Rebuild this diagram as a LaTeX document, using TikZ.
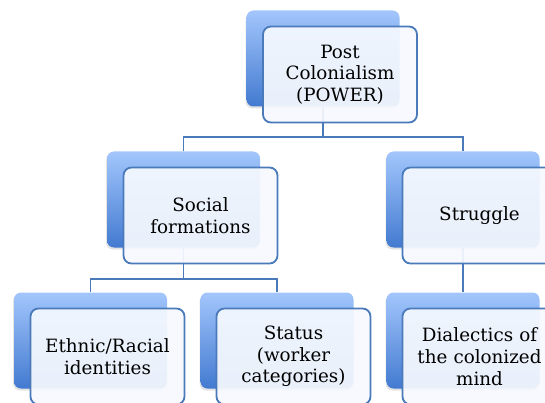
\documentclass[tikz,border=0pt]{standalone}
\usepackage{fontspec}
\setmainfont{DejaVu Serif}
\usetikzlibrary{shadows,calc}
\definecolor{edgeblue}{RGB}{74,122,186}
\definecolor{backtop}{RGB}{163,198,252}
\definecolor{backbot}{RGB}{66,122,208}
\definecolor{frontfill}{RGB}{246,249,254}
\tikzset{
  backbox/.style={rectangle, rounded corners=7pt, minimum width=153pt, minimum height=96pt,
    inner sep=0pt, top color=backtop, bottom color=backbot, draw=none,
    drop shadow={opacity=0.22, shadow xshift=-1pt, shadow yshift=-2pt}},
  frontbox/.style={rectangle, rounded corners=8pt, minimum width=153pt, minimum height=96pt,
    inner sep=2pt, draw=edgeblue, line width=1.8pt, fill=frontfill, fill opacity=0.93,
    text opacity=1, align=center, text width=150pt, font=\fontsize{18.3}{21.7}\selectfont},
  link/.style={draw=edgeblue, line width=1.8pt},
}
\begin{document}
\begin{tikzpicture}[x=1pt,y=-1pt]
\useasboundingbox (0,0) rectangle (545,403);
% rear blocks
\node[backbox] (topB) at (323,58.5) {};
\node[backbox] (socB) at (183.5,199.5) {};
\node[backbox] (strB) at (463,199.5) {};
\node[backbox] (ethB) at (90.5,340.5) {};
\node[backbox] (staB) at (277,340.5) {};
\node[backbox] (diaB) at (463,340.5) {};
% connectors
\draw[link] (topB.south) -- ($(topB.south)+(0,30)$) coordinate (busA) -| (socB.north);
\draw[link] (busA) -| (strB.north);
\draw[link] (socB.south) -- ($(socB.south)+(0,31)$) coordinate (busB) -| (ethB.north);
\draw[link] (busB) -| (staB.north);
\draw[link] (strB.south) -- (diaB.north);
% front blocks with labels
\node[frontbox] (top) at (340,74.5) {Post\\Colonialism\\(POWER)};
\node[frontbox] (soc) at (200.5,215.5) {Social\\formations};
\node[frontbox] (str) at (479.5,215.5) {Struggle};
\node[frontbox] (eth) at (107.5,356.5) {Ethnic/Racial\\identities};
\node[frontbox] (sta) at (293.5,356.5) {Status\\(worker\\categories)};
\node[frontbox] (dia) at (479.5,356.5) {Dialectics of\\the colonized\\mind};
\end{tikzpicture}
\end{document}
